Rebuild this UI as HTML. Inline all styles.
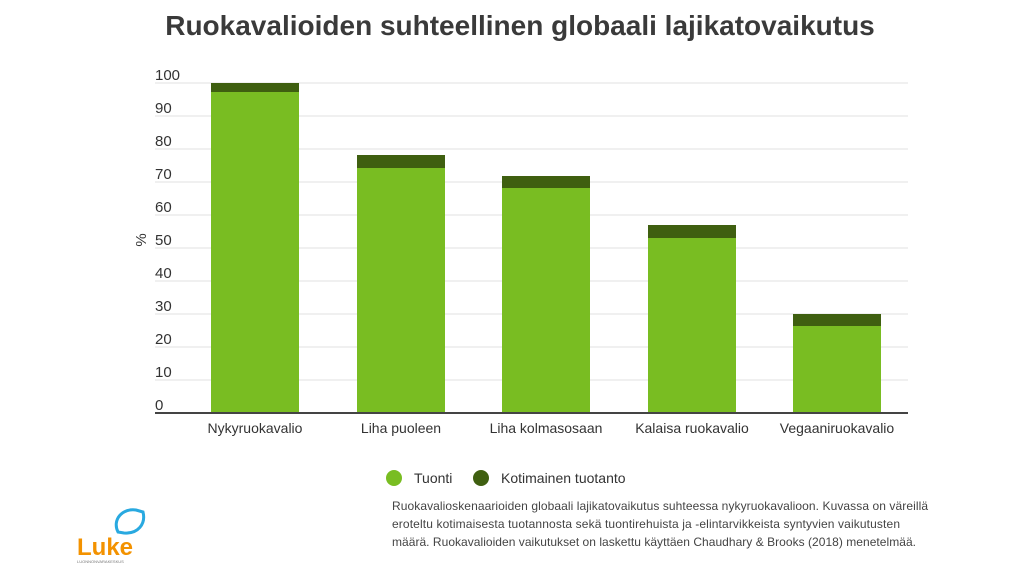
<!DOCTYPE html><html><head><meta charset="utf-8"><style>
body{margin:0;width:1024px;height:576px;background:#fff;font-family:"Liberation Sans",sans-serif;position:relative;overflow:hidden;color:#333}
.a{position:absolute}
</style></head><body>
<div class="a" style="left:0;width:1040px;top:10px;text-align:center;font-size:28px;font-weight:bold;color:#3a3a3a">Ruokavalioiden suhteellinen globaali lajikatovaikutus</div>
<svg class="a" style="left:0;top:0" width="1024" height="576">
<g stroke="#e2e2e2" stroke-width="1">
<line x1="155" x2="908" y1="83" y2="83"/><line x1="155" x2="908" y1="116" y2="116"/><line x1="155" x2="908" y1="149" y2="149"/><line x1="155" x2="908" y1="182" y2="182"/><line x1="155" x2="908" y1="215" y2="215"/><line x1="155" x2="908" y1="248" y2="248"/><line x1="155" x2="908" y1="281" y2="281"/><line x1="155" x2="908" y1="314" y2="314"/><line x1="155" x2="908" y1="347" y2="347"/><line x1="155" x2="908" y1="380" y2="380"/>
</g>
<g font-size="15" fill="#333">
<text x="155" y="80">100</text><text x="155" y="113">90</text><text x="155" y="146">80</text><text x="155" y="179">70</text><text x="155" y="212">60</text><text x="155" y="245">50</text><text x="155" y="278">40</text><text x="155" y="311">30</text><text x="155" y="344">20</text><text x="155" y="377">10</text><text x="155" y="410">0</text>
</g>
<text x="146" y="240" font-size="15" fill="#333" transform="rotate(-90 146 240)" text-anchor="middle">%</text>
<g fill="#79bd22">
<rect x="211" y="92" width="88" height="321"/><rect x="357" y="168" width="88" height="245"/><rect x="502" y="188" width="88" height="225"/><rect x="648" y="238" width="88" height="175"/><rect x="793" y="326" width="88" height="87"/>
</g>
<g fill="#3f5f10">
<rect x="211" y="83" width="88" height="9"/><rect x="357" y="155" width="88" height="13"/><rect x="502" y="176" width="88" height="12"/><rect x="648" y="225" width="88" height="13"/><rect x="793" y="314" width="88" height="12"/>
</g>
<line x1="155" x2="908" y1="413" y2="413" stroke="#444" stroke-width="2"/>
<g font-size="14" fill="#333" text-anchor="middle">
<text x="255" y="433">Nykyruokavalio</text><text x="401" y="433">Liha puoleen</text><text x="546" y="433">Liha kolmasosaan</text><text x="692" y="433">Kalaisa ruokavalio</text><text x="837" y="433">Vegaaniruokavalio</text>
</g>
<circle cx="394" cy="478" r="8" fill="#79bd22"/><circle cx="481" cy="478" r="8" fill="#3f5f10"/>
<text x="414" y="483" font-size="14" fill="#333">Tuonti</text><text x="501" y="483" font-size="14" fill="#333">Kotimainen tuotanto</text>
<g font-size="12" fill="#444" textLength="536">
<text x="392" y="510" textLength="536">Ruokavalioskenaarioiden globaali lajikatovaikutus suhteessa nykyruokavalioon. Kuvassa on väreillä</text>
<text x="392" y="528" textLength="508">eroteltu kotimaisesta tuotannosta sekä tuontirehuista ja -elintarvikkeista syntyvien vaikutusten</text>
<text x="392" y="546" textLength="524">määrä. Ruokavalioiden vaikutukset on laskettu käyttäen Chaudhary &amp; Brooks (2018) menetelmää.</text>
</g>
<path d="M118 532 C112 520 122 508 136 510 L143 512 C146 524 138 534 124 533 Z" fill="none" stroke="#29a9e0" stroke-width="3"/>
<text x="77" y="555" font-size="24" fill="#f39200" font-weight="bold">Luke</text>
<text x="77" y="563" font-size="4" fill="#777">LUONNONVARAKESKUS</text>
</svg>
</body></html>
